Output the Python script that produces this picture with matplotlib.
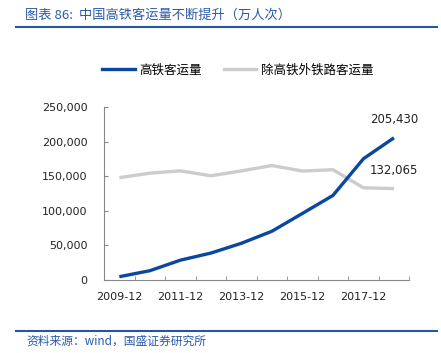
import numpy as np
import matplotlib.pyplot as plt
from matplotlib.lines import Line2D

plt.rcParams['font.family'] = ['Noto Sans CJK SC', 'DejaVu Sans']

years = ['2009-12', '2010-12', '2011-12', '2012-12', '2013-12',
         '2014-12', '2015-12', '2016-12', '2017-12', '2018-12']
hsr = [4651, 13323, 28552, 38815, 52962, 70378, 96139, 122128, 175216, 205430]
other = [147800, 154286, 157674, 150522, 157635, 165326, 157345, 159277, 133163, 132065]

blue = '#0a47a0'
gray = '#cccccc'
title_col = '#2a5aa8'

fig = plt.figure(figsize=(4.41, 3.53), dpi=100)
ax = fig.add_axes([0.236, 0.207, 0.692, 0.49])

x = np.arange(len(years))
ax.plot(x, other, color=gray, lw=2.4, solid_capstyle='butt')
ax.plot(x, hsr, color=blue, lw=2.4, solid_capstyle='butt')

ax.set_xlim(-0.5, len(years) - 0.5)
ax.set_ylim(0, 250000)
ax.set_yticks(np.arange(0, 250001, 50000))
ax.set_yticklabels([f'{v:,}' for v in range(0, 250001, 50000)],
                   fontsize=8, color='#222222', family='DejaVu Sans')
ax.set_xticks(x[::2])
ax.set_xticklabels(years[::2], fontsize=8, color='#222222', family='DejaVu Sans')
ax.set_xticks(np.arange(-0.5, len(years)), minor=True)
ax.tick_params(axis='x', which='major', length=0, pad=9)
ax.tick_params(axis='x', which='minor', length=3, direction='in', color='#888888')
ax.tick_params(axis='y', length=3, direction='in', color='#888888', pad=12)

for s in ['top', 'right']:
    ax.spines[s].set_visible(False)
for s in ['left', 'bottom']:
    ax.spines[s].set_color('#888888')
    ax.spines[s].set_linewidth(0.8)

ax.annotate(f'{hsr[-1]:,}', (x[-1], hsr[-1]), xytext=(0, 13), textcoords='offset points',
            ha='center', va='center', fontsize=8.5, family='DejaVu Sans', color='#222222')
ax.annotate(f'{other[-1]:,}', (x[-1], other[-1]), xytext=(0, 13), textcoords='offset points',
            ha='center', va='center', fontsize=8.5, family='DejaVu Sans', color='#222222')

# legend
handles = [Line2D([], [], color=blue, lw=2.4), Line2D([], [], color=gray, lw=2.4)]
fig.legend(handles, ['高铁客运量', '除高铁外铁路客运量'], loc='center',
           bbox_to_anchor=(0.539, 0.802), ncol=2, frameon=False, fontsize=9,
           handlelength=2.6, handletextpad=0.35, columnspacing=1.8)

# title and footer
fig.text(0.057, 0.958, '图表 86:  中国高铁客运量不断提升（万人次）', fontsize=9.5,
         color=title_col, style='italic', va='center')
fig.add_artist(Line2D([0.037, 0.992], [0.923, 0.923], color='#2656a0', lw=1.5))
fig.add_artist(Line2D([0.037, 0.992], [0.062, 0.062], color='#2656a0', lw=1.5))
fig.text(0.06, 0.033, '资料来源：wind，国盛证券研究所', fontsize=8.5,
         color=title_col, style='italic', va='center')

fig.savefig('out.png', dpi=100)
